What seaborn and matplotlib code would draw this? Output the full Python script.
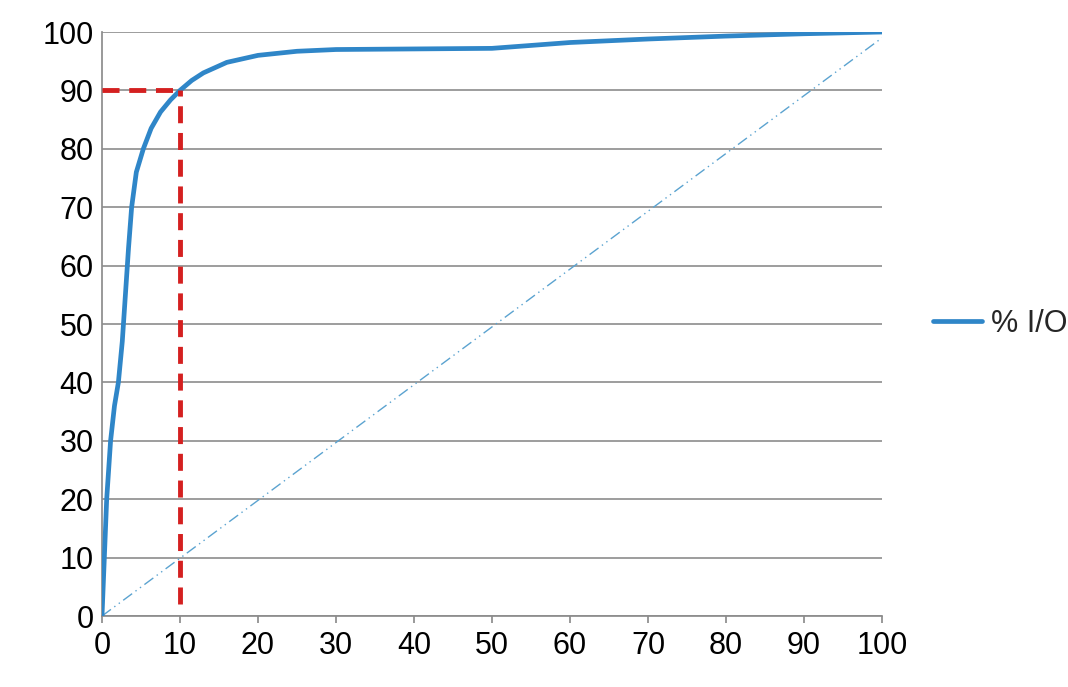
import matplotlib
matplotlib.use("Agg")
import matplotlib.pyplot as plt
import seaborn as sns
import pandas as pd

x_vals = [0, 0.15, 0.6, 1.1, 1.6, 2.1, 2.6, 3.0, 3.4, 3.8, 4.4, 5.3, 6.3, 7.5, 8.8, 10, 11.5, 13, 16, 20, 25, 30, 40, 50, 55, 60, 70, 80, 90, 100]
y_vals = [0, 5, 20, 30, 36, 40, 47, 55, 63, 70, 76, 80, 83.5, 86.3, 88.4, 90, 91.7, 93, 94.8, 96, 96.7, 97, 97.1, 97.2, 97.7, 98.2, 98.8, 99.3, 99.7, 100]
ref_x = [0, 100]
ref_y = [0, 99]
marker_x = 10
marker_y = 90

sns.set_theme(style="white")
plt.rcParams['font.family'] = ['Liberation Sans', 'DejaVu Sans']
fig = plt.figure(figsize=(10.68, 6.87), dpi=100)
ax = fig.add_axes([102/1068, 71/687, 780/1068, 584/687])
df = pd.DataFrame({"x": x_vals, "y": y_vals})
sns.lineplot(data=df, x="x", y="y", ax=ax, color="#2f86c8", linewidth=3.4, label="% I/O", zorder=3)
ax.plot(ref_x, ref_y, color="#5ba3d0", linewidth=1, linestyle=(0, (8, 3, 1, 3, 1, 3)), zorder=2)
ax.plot([marker_x, marker_x], [2, marker_y], color="#d42020", linewidth=3.5, linestyle=(0, (3.5, 2)), zorder=4)
ax.plot([0, marker_x], [marker_y, marker_y], color="#d42020", linewidth=3.5, linestyle=(0, (3.5, 2)), zorder=4)
ax.set_xlim(0, 100)
ax.set_ylim(0, 100)
ax.set_xticks(range(0, 101, 10))
ax.set_yticks(range(0, 101, 10))
ax.yaxis.grid(True, color="#8c8c8c", linewidth=1.2)
for s in ["top", "right"]:
    ax.spines[s].set_visible(False)
for s in ["left", "bottom"]:
    ax.spines[s].set_color("#8c8c8c")
ax.tick_params(axis="both", labelsize=22, colors="black", length=0, pad=6)
ax.tick_params(axis="x", length=5, color="#8c8c8c", direction="out", bottom=True)
ax.set_xlabel("")
ax.set_ylabel("")
ax.legend(loc="center left", bbox_to_anchor=(1.03, 0.5), frameon=False, fontsize=22, handlelength=1.6, handletextpad=0.3)
fig.savefig("out.png", dpi=100)
